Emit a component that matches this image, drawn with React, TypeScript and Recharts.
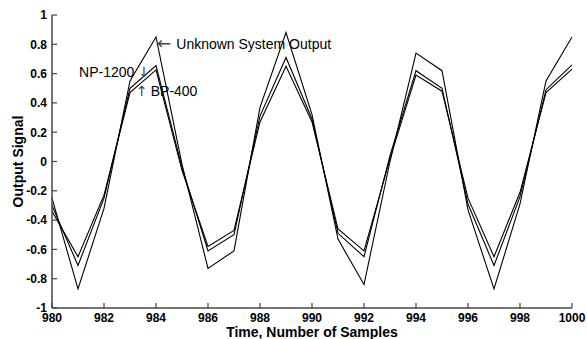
import { LineChart, Line, XAxis, YAxis, ReferenceDot } from "recharts";

const samples = [980, 981, 982, 983, 984, 985, 986, 987, 988, 989, 990, 991, 992, 993, 994, 995, 996, 997, 998, 999, 1000];
const unknownOut = [-0.25, -0.87, -0.32, 0.55, 0.85, -0.02, -0.73, -0.61, 0.37, 0.88, 0.32, -0.53, -0.84, 0.0, 0.74, 0.62, -0.33, -0.87, -0.29, 0.55, 0.85];
const np1200 = [-0.3, -0.71, -0.25, 0.5, 0.655, -0.04, -0.61, -0.5, 0.31, 0.71, 0.29, -0.49, -0.65, 0.04, 0.62, 0.5, -0.29, -0.71, -0.24, 0.49, 0.66];
const bp400 = [-0.34, -0.65, -0.23, 0.47, 0.625, -0.06, -0.58, -0.47, 0.27, 0.65, 0.27, -0.46, -0.61, 0.02, 0.59, 0.48, -0.25, -0.65, -0.21, 0.47, 0.63];

const xTicks = [980, 982, 984, 986, 988, 990, 992, 994, 996, 998, 1000];
const yTicks = [-1, -0.8, -0.6, -0.4, -0.2, 0, 0.2, 0.4, 0.6, 0.8, 1];

// annotation: arrow glyph, label, arrow side, position in data units
const annotArrows = ["\u2190", "\u2193", "\u2191"];
const annotTexts = ["Unknown System Output", "NP-1200", "BP-400"];
const annotArrowFirst = [true, false, true];
const annotX = [984.04, 981.04, 983.23];
const annotY = [0.8, 0.613, 0.478];

const data = samples.map((t, i) => ({ t, unk: unknownOut[i], np: np1200[i], bp: bp400[i] }));

const FONT = "'Liberation Sans', Arial, Helvetica, sans-serif";
const ARROW_FONT = "'DejaVu Sans', sans-serif";
const AXIS = "#444";

const fmt = (v: number) => String(Number(v.toFixed(1)));

function YTick(props: any) {
	const { x, y, payload } = props;
	return (
		<g>
			<line x1={x} x2={x + 5} y1={y} y2={y} stroke={AXIS} strokeWidth={1.2} />
			<text x={x - 5} y={y} dy={4.3} textAnchor="end" fontSize={12} fontWeight="bold" fill="#000" fontFamily={FONT}>
				{fmt(payload.value)}
			</text>
		</g>
	);
}

function XTick(props: any) {
	const { x, y, payload } = props;
	return (
		<g>
			<line x1={x} x2={x} y1={y} y2={y - 5} stroke={AXIS} strokeWidth={1.2} />
			<text x={x} y={y + 14} textAnchor="middle" fontSize={12} fontWeight="bold" fill="#000" fontFamily={FONT}>
				{payload.value}
			</text>
		</g>
	);
}

function Annot(props: any) {
	const { viewBox, arrow, text, arrowFirst, big } = props;
	const arrowSpan = (
		<tspan fontFamily={ARROW_FONT} fontSize={big ? 17 : 14} fill="#444">
			{arrow}
		</tspan>
	);
	return (
		<text x={viewBox.x} y={viewBox.y} dy={5} textAnchor="start" fontSize={14} fill="#000" fontFamily={FONT}>
			{arrowFirst ? (
				<>
					{arrowSpan}
					<tspan dx={big ? 5 : 3}>{text}</tspan>
				</>
			) : (
				<>
					<tspan>{text}</tspan>
					<tspan dx={4} fontFamily={ARROW_FONT} fontSize={14} fill="#444">
						{arrow}
					</tspan>
				</>
			)}
		</text>
	);
}

export default function App() {
	return (
		<div style={{ width: 587, height: 339, background: "#fff" }}>
			<style>{"body{margin:0}"}</style>
			<LineChart width={587} height={339} data={data} margin={{ top: 15, right: 15, left: 0, bottom: 0 }} style={{ fontFamily: FONT }}>
				<XAxis
					type="number"
					dataKey="t"
					domain={[980, 1000]}
					ticks={xTicks}
					height={31}
					tickSize={0}
					tickMargin={0}
					tickLine={false}
					axisLine={{ stroke: AXIS, strokeWidth: 1.5 }}
					tick={<XTick />}
					interval={0}
					label={{
						content: (p: any) => (
							<text
								x={p.viewBox.x + p.viewBox.width / 2}
								y={p.viewBox.y + 28.5}
								textAnchor="middle"
								fontSize={14}
								fontWeight="bold"
								fill="#000"
								fontFamily={FONT}
							>
								Time, Number of Samples
							</text>
						),
					}}
				/>
				<YAxis
					type="number"
					domain={[-1, 1]}
					ticks={yTicks}
					width={52}
					tickSize={0}
					tickMargin={0}
					tickLine={false}
					axisLine={{ stroke: AXIS, strokeWidth: 1.5 }}
					tick={<YTick />}
					interval={0}
					label={{
						content: (p: any) => {
							const cx = p.viewBox.x + 23;
							const cy = p.viewBox.y + p.viewBox.height / 2;
							return (
								<text
									x={cx}
									y={cy}
									transform={`rotate(-90 ${cx} ${cy})`}
									textAnchor="middle"
									fontSize={14}
									fontWeight="bold"
									fill="#000"
									fontFamily={FONT}
								>
									Output Signal
								</text>
							);
						},
					}}
				/>
				<Line type="linear" dataKey="unk" stroke="#000" strokeWidth={1.1} dot={false} isAnimationActive={false} />
				<Line type="linear" dataKey="np" stroke="#000" strokeWidth={1.1} dot={false} isAnimationActive={false} />
				<Line type="linear" dataKey="bp" stroke="#000" strokeWidth={1.1} dot={false} isAnimationActive={false} />
				{annotTexts.map((txt, i) => (
					<ReferenceDot
						key={txt}
						x={annotX[i]}
						y={annotY[i]}
						r={0}
						stroke="none"
						fill="none"
						label={{
							content: (p: any) => (
								<Annot viewBox={p.viewBox} arrow={annotArrows[i]} text={txt} arrowFirst={annotArrowFirst[i]} big={i === 0} />
							),
						}}
					/>
				))}
			</LineChart>
		</div>
	);
}
